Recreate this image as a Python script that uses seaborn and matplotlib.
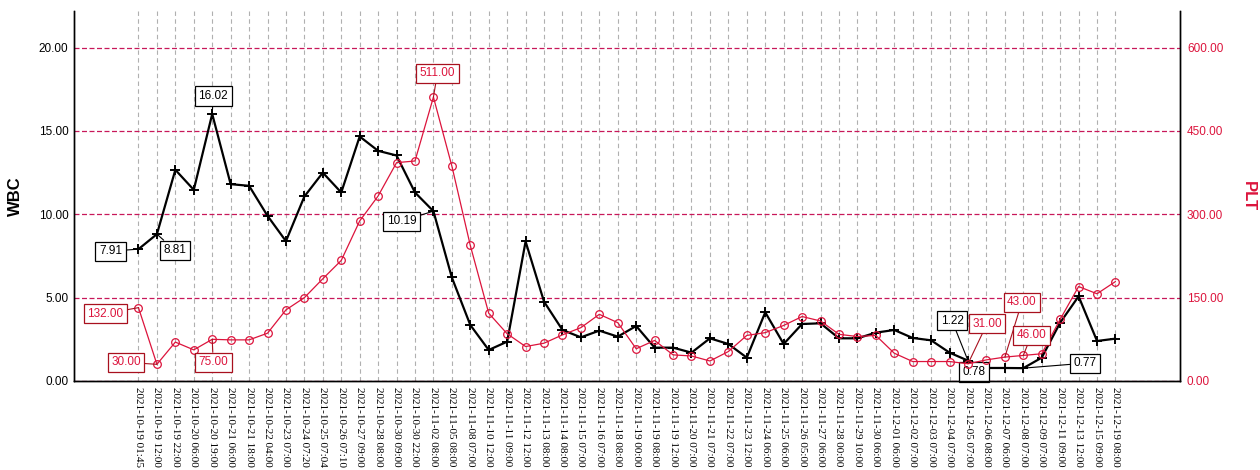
import numpy as np
import pandas as pd
import matplotlib
matplotlib.use("Agg")
import matplotlib.pyplot as plt
import seaborn as sns

# Sampling times (category axis)
times = [
    "2021-10-19 01:45", "2021-10-19 12:00", "2021-10-19 22:00", "2021-10-20 06:00",
    "2021-10-20 19:00", "2021-10-21 06:00", "2021-10-21 18:00", "2021-10-22 04:00",
    "2021-10-23 07:00", "2021-10-24 07:20", "2021-10-25 07:04", "2021-10-26 07:10",
    "2021-10-27 09:00", "2021-10-28 08:00", "2021-10-30 09:00", "2021-10-30 22:00",
    "2021-11-02 08:00", "2021-11-05 08:00", "2021-11-08 07:00", "2021-11-10 12:00",
    "2021-11-11 09:00", "2021-11-12 12:00", "2021-11-13 08:00", "2021-11-14 08:00",
    "2021-11-15 07:00", "2021-11-16 07:00", "2021-11-18 08:00", "2021-11-19 00:00",
    "2021-11-19 08:00", "2021-11-19 12:00", "2021-11-20 07:00", "2021-11-21 07:00",
    "2021-11-22 07:00", "2021-11-23 12:00", "2021-11-24 06:00", "2021-11-25 06:00",
    "2021-11-26 05:00", "2021-11-27 06:00", "2021-11-28 00:00", "2021-11-29 10:00",
    "2021-11-30 06:00", "2021-12-01 06:00", "2021-12-02 07:00", "2021-12-03 07:00",
    "2021-12-04 07:00", "2021-12-05 07:00", "2021-12-06 08:00", "2021-12-07 06:00",
    "2021-12-08 07:00", "2021-12-09 07:00", "2021-12-11 09:00", "2021-12-13 12:00",
    "2021-12-15 09:00", "2021-12-19 08:00",
]

# White blood cell count
wbc = [
    7.91, 8.81, 12.67, 11.47, 16.02, 11.81, 11.71, 9.91, 8.39, 11.07,
    12.50, 11.31, 14.67, 13.81, 13.53, 11.31, 10.19, 6.21, 3.36, 1.86,
    2.36, 8.37, 4.76, 3.06, 2.62, 3.02, 2.66, 3.30, 2.00, 2.00,
    1.70, 2.56, 2.22, 1.40, 4.12, 2.22, 3.42, 3.46, 2.56, 2.56,
    2.90, 3.06, 2.58, 2.44, 1.70, 1.22, 0.78, 0.78, 0.77, 1.40,
    3.50, 5.08, 2.40, 2.54,
]

# Platelet count
plt_count = [
    132, 30, 70, 56, 75, 74, 74, 86, 128, 150,
    184, 217, 288, 333, 393, 396, 511, 387, 244, 122,
    85, 62, 68, 83, 96, 120, 105, 58, 73, 47,
    45, 36, 53, 82, 87, 100, 116, 108, 84, 80,
    82, 50, 35, 35, 35, 31, 38, 43, 46, 49,
    111, 170, 157, 179,
]

# Highlighted points: (index, label offset in pixels)
wbc_marks = [(0, (-28, -2)), (1, (18, -16)), (4, (1, 18)), (16, (-32, -10)),
             (45, (-16, 40)), (46, (-12, -4)), (48, (62, 5))]
plt_marks = [(0, (-33, -6)), (1, (-31, 2)), (4, (1, -23)), (16, (4, 24)),
             (45, (19, 40)), (47, (17, 55)), (48, (8, 20))]

RED = "#dc143c"
RED_EDGE = "#a8101e"
GRID_RED = "#c8185a"

sns.set_style("white")
plt.rcParams["font.family"] = ["Liberation Sans", "DejaVu Sans"]
plt.rcParams.update({
    "text.color": "black",
    "axes.labelcolor": "black",
    "xtick.color": "black",
    "ytick.color": "black",
    "axes.edgecolor": "black",
})

pos = np.arange(len(times))
df = pd.DataFrame({"pos": pos, "WBC": wbc, "PLT": plt_count})

fig = plt.figure(figsize=(12.6, 4.7), dpi=100)
ax = fig.add_axes([0.0587, 0.1894, 0.8778, 0.7872])
ax2 = ax.twinx()

sns.lineplot(data=df, x="pos", y="WBC", ax=ax, color="black", linewidth=1.6,
             marker="+", markersize=7, markeredgewidth=1.4, markeredgecolor="black",
             zorder=3)
sns.lineplot(data=df, x="pos", y="PLT", ax=ax2, color=RED, linewidth=0.9,
             marker="o", markersize=5.5, markerfacecolor="none",
             markeredgecolor=RED, markeredgewidth=0.9, zorder=3)

ax.set_xlim(-3.5, len(times) - 1 + 3.5)
ax.set_ylim(0, 22.2)
ax2.set_ylim(0, 666)

ax.set_xticks(pos)
ax.set_xticklabels(times, rotation=270, ha="center", va="top",
                   fontfamily="Liberation Serif", fontsize=8, color="black")
ax.set_yticks([0, 5, 10, 15, 20])
ax.set_yticklabels([f"{v:.2f}" for v in [0, 5, 10, 15, 20]], fontsize=8.5,
                   color="black")
ax2.set_yticks([0, 150, 300, 450, 600])
ax2.set_yticklabels([f"{v:.2f}" for v in [0, 150, 300, 450, 600]], fontsize=8.5,
                    color=RED)

ax.tick_params(axis="both", length=0, pad=4)
ax2.tick_params(axis="y", length=0, pad=5)

ax.grid(axis="x", color="#b0b0b0", linestyle=(0, (4, 3)), linewidth=0.8)
ax.grid(axis="y", color=GRID_RED, linestyle=(0, (4, 2)), linewidth=0.9)
ax.set_axisbelow(True)

ax.set_xlabel("")
ax.set_ylabel("WBC", fontsize=12, fontweight="bold", color="black", labelpad=11)
ax2.set_ylabel("PLT", fontsize=12, fontweight="bold", color=RED,
               rotation=270, va="bottom", labelpad=13)

for a in (ax, ax2):
    a.spines["top"].set_visible(False)
    for s in ("left", "right", "bottom"):
        a.spines[s].set_color("black")
        a.spines[s].set_linewidth(1.0)

for i, (dx, dy) in wbc_marks:
    ax.annotate(f"{wbc[i]:.2f}", xy=(pos[i], wbc[i]), xytext=(dx, dy),
                textcoords="offset pixels", ha="center", va="center",
                fontsize=8.5, color="black", zorder=6,
                bbox=dict(boxstyle="square,pad=0.3", fc="white", ec="black", lw=0.9),
                arrowprops=dict(arrowstyle="-", color="black", lw=0.8,
                                shrinkA=0, shrinkB=0))

for i, (dx, dy) in plt_marks:
    ax2.annotate(f"{plt_count[i]:.2f}", xy=(pos[i], plt_count[i]), xytext=(dx, dy),
                 textcoords="offset pixels", ha="center", va="center",
                 fontsize=8.5, color=RED, zorder=6,
                 bbox=dict(boxstyle="square,pad=0.3", fc="white", ec=RED_EDGE, lw=0.9),
                 arrowprops=dict(arrowstyle="-", color=RED_EDGE, lw=0.8,
                                 shrinkA=0, shrinkB=0))

fig.savefig("out.png", dpi=100)
